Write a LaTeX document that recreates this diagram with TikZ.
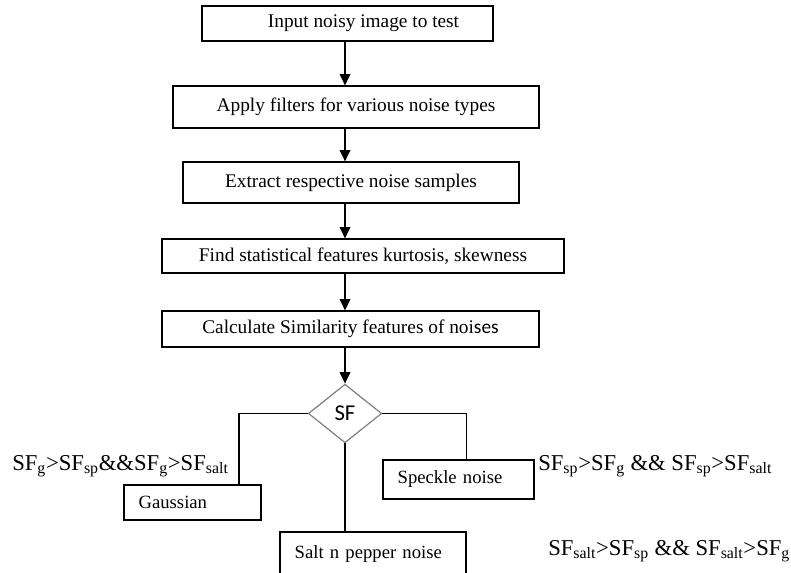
\documentclass[tikz,border=0pt]{standalone}
\usepackage{fontspec}
\setmainfont{Liberation Serif}
\newfontfamily\sflabel{Carlito}
\usetikzlibrary{shapes.geometric,arrows.meta}

\tikzset{every node/.style={inner sep=0pt}}
\tikzstyle{process}=[draw, rectangle, line width=0.9pt, font=\fontsize{14.5}{16}\selectfont]
\tikzstyle{outcome}=[draw, rectangle, line width=0.9pt, align=left, inner xsep=11pt, font=\fontsize{14}{16}\selectfont]
\tikzstyle{rule}=[anchor=base west, font=\fontsize{17}{20}\selectfont]
\tikzstyle{flow}=[line width=0.9pt, -{Triangle[length=8.5pt,width=8pt]}]
\tikzstyle{branch}=[line width=0.9pt]

\begin{document}
\begin{tikzpicture}[x=0.75pt, y=-0.75pt]
            \useasboundingbox (0,0) rectangle (791,573);

            % main chain
            \node [process, minimum width=218.3pt, minimum height=26.3pt] (input) at (347.5,23.5) {\hspace*{24pt}Input noisy image to test};
            \node [process, minimum width=274.5pt, minimum height=31.5pt] (filters) at (356,107) {Apply filters for various noise types};
            \node [process, minimum width=252pt, minimum height=30.8pt] (extract) at (351,182.5) {Extract respective noise samples};
            \node [process, minimum width=301.5pt, minimum height=25.5pt] (stats) at (363,256) {Find statistical features kurtosis, skewness};
            \node [process, minimum width=282.8pt, minimum height=27pt] (similar) at (350.5,329) {Calculate Similarity features of noi{\sflabel ses}};
            \node [diamond, draw=gray, line width=0.9pt, minimum width=55pt, minimum height=44pt, font=\sflabel\fontsize{17}{18}\selectfont] (sf) at (345,413.5) {SF};

            % outcomes
            \node [outcome, text width=80.8pt, minimum height=26.3pt] (gauss) at (192.5,502.5) {Gaussian};
            \node [outcome, text width=91.3pt, minimum height=29.3pt] (speckle) at (458.5,479.5) {Speckle noise};
            \node [outcome, text width=117.5pt, minimum height=33pt] (salt) at (373,554) {Salt n pepper noise};

            \node [rule] (rgauss) at (12,470) {SF\textsubscript{g}>SF\textsubscript{sp}\&\&SF\textsubscript{g}>SF\textsubscript{salt}};
            \node [rule] (rspeckle) at (538,470) {SF\textsubscript{sp}>SF\textsubscript{g} \&\& SF\textsubscript{sp}>SF\textsubscript{salt}};
            \node [rule] (rsalt) at (548,555) {SF\textsubscript{salt}>SF\textsubscript{sp} \&\& SF\textsubscript{salt}>SF\textsubscript{g}};

            \draw [flow] (input.south -| sf.north) -- (filters.north -| sf.north);
            \draw [flow] (filters.south -| sf.north) -- (extract.north -| sf.north);
            \draw [flow] (extract.south -| sf.north) -- (stats.north -| sf.north);
            \draw [flow] (stats.south -| sf.north) -- (similar.north -| sf.north);
            \draw [flow] (similar.south -| sf.north) -- (sf.north);

            \draw [branch] (sf.west) -| ([xshift=-17pt]gauss.north east);
            \draw [branch] (sf.east) -| ([xshift=-51pt]speckle.north east);
            \draw [branch] (sf.south) -- (salt.north -| sf.south);
        \end{tikzpicture}
\end{document}
